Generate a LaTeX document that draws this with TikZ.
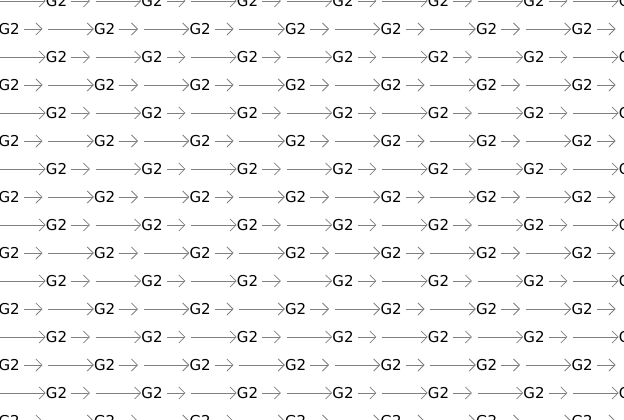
\documentclass[tikz,border=0pt]{standalone}
\usepackage{fontspec}
\setmainfont{DejaVu Sans}
\usetikzlibrary{arrows.meta}

\begin{document}
\begin{tikzpicture}[x=1pt, y=-1pt,
  gnode/.style={inner sep=0pt, anchor=west, font=\fontsize{15}{18}\selectfont},
  hub/.style={inner sep=0pt, anchor=west, minimum width=5.5pt, minimum height=2pt},
  link/.style={draw=gray, line width=0.8pt, -{Straight Barb[length=6pt,width=12pt]}},
  stub/.style={link, shorten <=4.1pt}]
\useasboundingbox (0,0) rectangle (624,420);
\clip (0,0) rectangle (624,420);
% one row per step of 28pt, odd rows shifted by half a period
\foreach \r in {0,...,15}{
  \pgfmathsetmacro{\yy}{1+28*\r}
  \pgfmathsetmacro{\xo}{mod(\r,2)==1 ? -1.7 : 45.7}
  \foreach \c in {-1,...,6}{
    \node[gnode] (g-\r-\c) at ({\xo+95.5*\c},\yy) {G2};
    \node[hub] (h-\r-\c) at ({\xo+95.5*\c+44.2},\yy) {};
    \draw[stub] (g-\r-\c.east) -- (h-\r-\c.west);
  }
  \foreach \c [evaluate=\c as \n using int(\c+1)] in {-1,...,5}{
    \draw[link] (h-\r-\c.east) -- (g-\r-\n.west);
  }
}
\end{tikzpicture}
\end{document}
